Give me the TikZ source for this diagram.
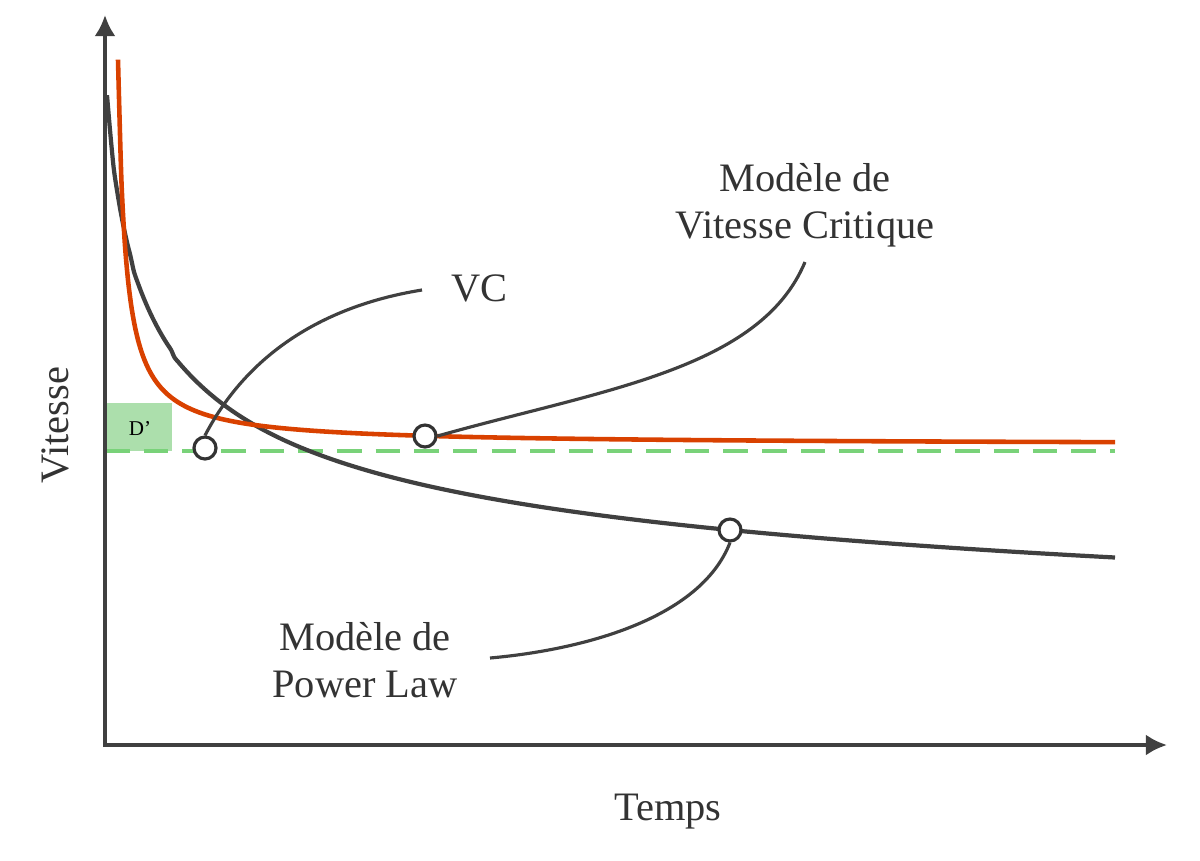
\documentclass[tikz,border=0pt]{standalone}
\usepackage{fontspec}
\setmainfont{Liberation Serif}
\usetikzlibrary{arrows.meta}
\begin{document}
\begin{tikzpicture}[x=0.02cm,y=-0.02cm,
  ax/.style={line width=2.2pt,color=black!75,-{Latex[length=12pt,width=12pt]}},
  lead/.style={line width=1.8pt,color=black!75},
  ring/.style={circle,draw=black!80,line width=1.8pt,fill=white,minimum size=0.44cm,inner sep=0},
  lbl/.style={font=\fontsize{23}{27}\selectfont,color=black!80,align=center}]
\useasboundingbox (0,0) rectangle (1200,860);
\fill[green!45!gray!45] (105,403) rectangle (172,451);
\node[font=\fontsize{12}{14}\selectfont] (d) at (140,428) {D’};
\draw[green!50!gray!70,line width=2.2pt,dash pattern=on 14pt off 8pt] (105,451) -- (1115,451);
\draw[line width=2.4pt,color=black!75] plot[domain=107:1115,samples=300,smooth] (\x,{745-215*((\x-93)/637)^(-0.29)});
\draw[line width=2.6pt,color=orange!60!red!85!black] plot[domain=118:1115,samples=300,smooth] (\x,{445-2890/(\x-110.5)});
\draw[ax] (105,747) -- (105,15);
\draw[ax] (103,745) -- (1167,745);
\node[ring] (c1) at (205,448) {};
\node[ring] (c2) at (425,436) {};
\node[ring] (c3) at (730,530) {};
\coordinate (e1) at (422,290);
\coordinate (e2) at (805,262);
\coordinate (e3) at (490,658);
\draw[lead] (c1.north) .. controls (260,330) and (360,300) .. (e1);
\draw[lead] (c2.east) .. controls (600,390) and (760,370) .. (e2);
\draw[lead] (c3.south) .. controls (700,620) and (580,650) .. (e3);
\node[lbl,anchor=west] (vc) at (445,288) {VC};
\node[lbl] (vcm) at (805,205) {Modèle de\\Vitesse Critique};
\node[lbl] (pl) at (365,660) {Modèle de\\Power Law};
\node[lbl] (t) at (668,812) {Temps};
\node[lbl,rotate=90] (v) at (55,425) {Vitesse};
\end{tikzpicture}
\end{document}
